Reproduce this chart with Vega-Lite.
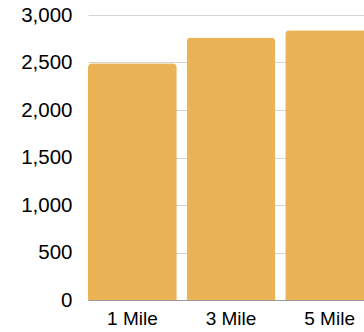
{
  "$schema": "https://vega.github.io/schema/vega-lite/v6.json",
  "autosize": {"type": "none"},
  "padding": {"left": 88, "top": 15, "right": 0, "bottom": 32},
  "width": 286,
  "height": 285,
  "background": "white",
  "data": {
    "values": [
      {"distance": "1 Mile", "count": 2492},
      {"distance": "3 Mile", "count": 2762},
      {"distance": "5 Mile", "count": 2840}
    ]
  },
  "mark": {"type": "bar", "color": "#EAB355", "cornerRadiusTopLeft": 4, "cornerRadiusTopRight": 4},
  "encoding": {
    "x": {
      "field": "distance",
      "type": "nominal",
      "sort": null,
      "title": null,
      "scale": {"paddingInner": 0.1, "paddingOuter": 0},
      "axis": {
        "labelAngle": 0,
        "labelFont": "Liberation Sans",
        "labelFontSize": 19,
        "labelColor": "#000000",
        "labelPadding": 9,
        "ticks": false,
        "domainColor": "#999999",
        "grid": false
      }
    },
    "y": {
      "field": "count",
      "type": "quantitative",
      "title": null,
      "scale": {"domain": [0, 3000], "nice": false},
      "axis": {
        "values": [0, 500, 1000, 1500, 2000, 2500, 3000],
        "format": ",d",
        "labelFont": "Liberation Sans",
        "labelFontSize": 20.5,
        "labelColor": "#000000",
        "labelPadding": 16,
        "ticks": false,
        "domain": false,
        "gridColor": "#d4d4d4",
        "labelBaseline": "middle"
      }
    }
  },
  "config": {"view": {"stroke": null}}
}
